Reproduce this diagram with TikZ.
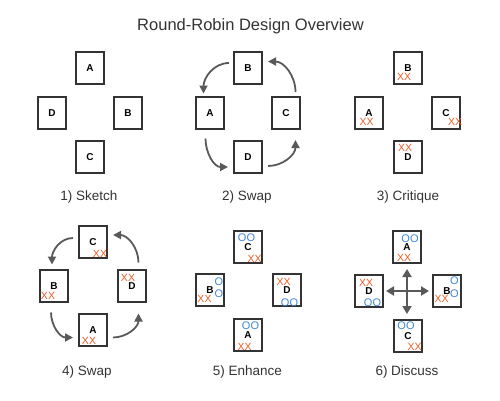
\documentclass[tikz,border=0pt]{standalone}
\usepackage{fontspec}
\setmainfont{Liberation Sans}
\usetikzlibrary{arrows.meta}
\definecolor{boxc}{HTML}{333333}
\definecolor{arrc}{HTML}{595959}
\definecolor{xxc}{HTML}{EE5A24}
\definecolor{ooc}{HTML}{3F86D6}
\definecolor{txtc}{HTML}{333333}
\tikzset{
  card/.style={draw=boxc, line width=2pt, minimum width=28pt, minimum height=32pt, inner sep=0pt, font=\fontsize{10}{10}\selectfont\bfseries, text=black},
  xx/.style={inner sep=0pt, text=xxc, font=\fontsize{10.5}{11}\selectfont},
  oo/.style={inner sep=0pt, text=ooc, font=\fontsize{11}{11}\selectfont},
  swaparrow/.style={draw=arrc, line width=1.8pt, -{Triangle[length=8pt,width=8pt]}},
  crossarrow/.style={draw=arrc, line width=2.2pt, {Triangle[length=8pt,width=9pt]}-{Triangle[length=8pt,width=9pt]}},
  lbl/.style={text=txtc, font=\fontsize{13.5}{14}\selectfont},
}
\begin{document}
\begin{tikzpicture}[x=1pt,y=1pt]
\useasboundingbox (0,0) rectangle (500,400);
\node[text=txtc, font=\fontsize{16.5}{18}\selectfont] (title) at (250.5,374) {Round-Robin Design Overview};

% Panel 1
\node[card] (p1A) at (90,332) {A};
\node[card] (p1D) at (52,287) {D};
\node[card] (p1B) at (128,287) {B};
\node[card] (p1C) at (90,243) {C};
\node[lbl] (l1) at (89,203) {1) Sketch};

% Panel 2
\node[card] (p2B) at (248,332) {B};
\node[card] (p2A) at (210,287) {A};
\node[card] (p2C) at (286,287) {C};
\node[card] (p2D) at (248,243) {D};
\node[lbl] (l2) at (247,203) {2) Swap};
\draw[swaparrow] ([shift={(-4,5)}]p2B.west) to[out=180,in=90] ([shift={(-6.5,2.5)}]p2A.north);
\draw[swaparrow] ([shift={(-4.5,-8.5)}]p2A.south) to[out=270,in=180] ([shift={(-5,-10)}]p2D.west);
\draw[swaparrow] ([shift={(5,-9)}]p2D.east) to[out=0,in=270] ([shift={(9.5,-10)}]p2C.south);
\draw[swaparrow] ([shift={(9.5,4)}]p2C.north) to[out=90,in=0] ([shift={(5,6.5)}]p2B.east);

% Panel 3
\node[card] (p3B) at (408,332) {B};
\node[card] (p3A) at (369,287) {A};
\node[card] (p3C) at (446,287) {C};
\node[card] (p3D) at (408,243) {D};
\node[lbl] (l3) at (408,203) {3) Critique};
\node[xx] (x3B) at ([shift={(-4,-8.5)}]p3B.center) {XX};
\node[xx] (x3A) at ([shift={(-2.5,-8.5)}]p3A.center) {XX};
\node[xx] (x3C) at ([shift={(9,-9)}]p3C.center) {XX};
\node[xx] (x3D) at ([shift={(-3,9.5)}]p3D.center) {XX};

% Panel 4
\node[card] (p4C) at (93,158) {C};
\node[card] (p4B) at (54,114) {B};
\node[card] (p4D) at (132,114) {D};
\node[card] (p4A) at (93,70) {A};
\node[lbl] (l4) at (87,27.5) {4) Swap};
\node[xx] (x4C) at ([shift={(7,-12)}]p4C.center) {XX};
\node[xx] (x4B) at ([shift={(-6,-10)}]p4B.center) {XX};
\node[xx] (x4D) at ([shift={(-4,8.5)}]p4D.center) {XX};
\node[xx] (x4A) at ([shift={(-4,-10.5)}]p4A.center) {XX};
\draw[swaparrow] ([shift={(-5,4)}]p4C.west) to[out=180,in=90] ([shift={(-2,4.5)}]p4B.north);
\draw[swaparrow] ([shift={(-3,-9.5)}]p4B.south) to[out=270,in=180] ([shift={(-5,-7.5)}]p4A.west);
\draw[swaparrow] ([shift={(5,-7.5)}]p4A.east) to[out=0,in=270] ([shift={(6.5,-10.5)}]p4D.south);
\draw[swaparrow] ([shift={(6.5,6.5)}]p4D.north) to[out=90,in=0] ([shift={(5,7)}]p4C.east);

% Panel 5
\node[card] (p5C) at (248,153) {C};
\node[card] (p5B) at (210,110) {B};
\node[card] (p5D) at (287,110) {D};
\node[card] (p5A) at (248,65) {A};
\node[lbl] (l5) at (247.5,27.5) {5) Enhance};
\node[oo] (o5C) at ([shift={(-1.5,9.5)}]p5C.center) {OO};
\node[xx] (x5C) at ([shift={(6.5,-11.5)}]p5C.center) {XX};
\node[oo] (o5Ba) at ([shift={(9,8.5)}]p5B.center) {O};
\node[oo] (o5Bb) at ([shift={(9,-3.5)}]p5B.center) {O};
\node[xx] (x5B) at ([shift={(-5.5,-8.5)}]p5B.center) {XX};
\node[xx] (x5D) at ([shift={(-3.5,8)}]p5D.center) {XX};
\node[oo] (o5D) at ([shift={(2.5,-12.5)}]p5D.center) {OO};
\node[oo] (o5A) at ([shift={(2.5,9)}]p5A.center) {OO};
\node[xx] (x5A) at ([shift={(-3.5,-11.5)}]p5A.center) {XX};

% Panel 6
\node[card] (p6A) at (407,153) {A};
\node[card] (p6D) at (369,109) {D};
\node[card] (p6B) at (447,109) {B};
\node[card] (p6C) at (408,64) {C};
\node[lbl] (l6) at (407,27.5) {6) Discuss};
\node[oo] (o6A) at ([shift={(3,8.5)}]p6A.center) {OO};
\node[xx] (x6A) at ([shift={(-3,-11)}]p6A.center) {XX};
\node[xx] (x6D) at ([shift={(-3,8)}]p6D.center) {XX};
\node[oo] (o6D) at ([shift={(3.5,-12)}]p6D.center) {OO};
\node[oo] (o6Ba) at ([shift={(7.5,10.5)}]p6B.center) {O};
\node[oo] (o6Bb) at ([shift={(7.5,-3)}]p6B.center) {O};
\node[xx] (x6B) at ([shift={(-5.5,-8)}]p6B.center) {XX};
\node[oo] (o6C) at ([shift={(-2,10)}]p6C.center) {OO};
\node[xx] (x6C) at ([shift={(6.5,-11)}]p6C.center) {XX};
\coordinate (cw) at (386,109);
\coordinate (ce) at (429,109);
\coordinate (cn) at (407,131);
\coordinate (cs) at (407,86);
\draw[crossarrow] (cw) -- (ce);
\draw[crossarrow] (cn) -- (cs);
\end{tikzpicture}
\end{document}
